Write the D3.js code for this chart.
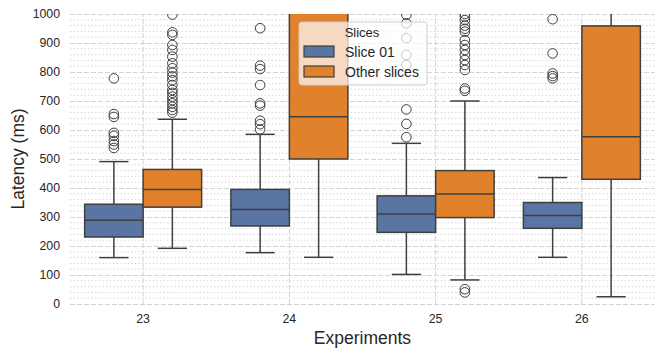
<!DOCTYPE html>
<html>
<head>
<meta charset="utf-8">
<script src="https://cdn.jsdelivr.net/npm/d3@7"></script>
<style>
  body { margin: 0; background: #fff; }
  svg { display: block; font-family: "Liberation Sans", Arial, sans-serif; }
</style>
</head>
<body>
<div id="chart"></div>
<script>
// experiments on the x axis, two hue groups
var categories = ["23", "24", "25", "26"];
var series = ["Slice 01", "Other slices"];
var yTicks = [0, 100, 200, 300, 400, 500, 600, 700, 800, 900, 1000];

// box stats per experiment: [whiskerLow, q1, median, q3, whiskerHigh]
var slice01Stats = [
  [160, 231, 289, 344, 491],
  [177, 269, 326, 395, 585],
  [102, 247, 310, 373, 554],
  [161, 261, 305, 350, 436]
];
var otherStats = [
  [192, 334, 395, 464, 637],
  [161, 500, 646, 1250, 1800],
  [83, 298, 379, 460, 700],
  [25, 430, 577, 959, 1400]
];

var slice01Outliers = [
  [778, 655, 645, 590, 580, 562, 550, 538],
  [951, 822, 810, 755, 692, 684, 632, 620, 602],
  [997, 968, 917, 859, 824, 671, 621, 575],
  [982, 864, 795, 786, 778]
];
var otherOutliers = [
  [998, 937, 928, 893, 876, 853, 830, 813, 798, 785, 772, 755, 738, 728, 715, 703, 692, 680, 669, 660],
  [],
  [1000, 991, 979, 960, 949, 939, 910, 893, 876, 859, 841, 824, 807, 743, 735, 51, 40],
  []
];

var colors = ["#5975a4", "#e1812c"];

(function () {
  'use strict';

  var edge = "#3f3f3f";
  var W = 665, H = 357;
  var mLeft = 70, mRight = 655, mTop = 14, mBottom = 304;

  var svg = d3.select("#chart").append("svg")
    .attr("width", W)
    .attr("height", H);

  var x = d3.scaleBand().domain(categories).range([mLeft, mRight]);
  var bw = x.bandwidth();
  var hue = d3.scaleBand().domain(series).range([0.1 * bw, 0.9 * bw]);
  var y = d3.scaleLinear().domain([0, 1000]).range([mBottom, mTop]);

  svg.append("defs").append("clipPath").attr("id", "plotclip")
    .append("rect")
    .attr("x", mLeft).attr("y", mTop)
    .attr("width", mRight - mLeft).attr("height", mBottom - mTop);

  // minor grid (dotted)
  var minor = d3.range(0, 1001, 20).filter(function (v) { return v % 100 !== 0; });
  svg.append("g").selectAll("line")
    .data(minor)
    .enter().append("line")
    .attr("x1", mLeft).attr("x2", mRight)
    .attr("y1", function (d) { return y(d); })
    .attr("y2", function (d) { return y(d); })
    .attr("stroke", "#d2d2d2")
    .attr("stroke-width", 1)
    .attr("stroke-dasharray", "1.4,2.2");

  // major grid (dashed) via axis
  var yAxis = svg.append("g")
    .attr("transform", "translate(" + mLeft + ",0)")
    .call(d3.axisLeft(y).tickValues(yTicks).tickFormat(d3.format("d"))
      .tickSize(-(mRight - mLeft)).tickPadding(10));
  yAxis.select(".domain").remove();
  yAxis.selectAll(".tick line")
    .attr("stroke", "#d4d4d4")
    .attr("stroke-width", 1)
    .attr("stroke-dasharray", "5,2");
  yAxis.selectAll(".tick text")
    .attr("fill", "#262626")
    .style("font-size", "12.3px")
    .style("font-family", "Liberation Sans, Arial, sans-serif");

  // vertical grid at category centres
  var xAxis = svg.append("g")
    .attr("transform", "translate(0," + mBottom + ")")
    .call(d3.axisBottom(x).tickSize(-(mBottom - mTop)).tickPadding(10));
  xAxis.select(".domain").remove();
  xAxis.selectAll(".tick line")
    .attr("stroke", "#d4d4d4")
    .attr("stroke-width", 1)
    .attr("stroke-dasharray", "5,2");
  xAxis.selectAll(".tick text")
    .attr("fill", "#262626")
    .style("font-size", "12.3px")
    .style("font-family", "Liberation Sans, Arial, sans-serif");

  // boxes
  var plot = svg.append("g").attr("clip-path", "url(#plotclip)");
  var allStats = [slice01Stats, otherStats];
  var allOutliers = [slice01Outliers, otherOutliers];

  series.forEach(function (s, si) {
    var boxW = hue.bandwidth();
    var g = plot.append("g").attr("class", "series-" + si);
    var rows = categories.map(function (c, ci) {
      return { cat: c, st: allStats[si][ci], out: allOutliers[si][ci] };
    });
    var grp = g.selectAll("g.box").data(rows).enter().append("g").attr("class", "box");
    var cx = function (d) { return x(d.cat) + hue(s) + boxW / 2; };

    // whiskers
    grp.append("line")
      .attr("x1", cx).attr("x2", cx)
      .attr("y1", function (d) { return y(d.st[0]); })
      .attr("y2", function (d) { return y(d.st[1]); })
      .attr("stroke", edge).attr("stroke-width", 1.5);
    grp.append("line")
      .attr("x1", cx).attr("x2", cx)
      .attr("y1", function (d) { return y(d.st[3]); })
      .attr("y2", function (d) { return y(d.st[4]); })
      .attr("stroke", edge).attr("stroke-width", 1.5);
    // caps
    [0, 4].forEach(function (k) {
      grp.append("line")
        .attr("x1", function (d) { return cx(d) - boxW / 4; })
        .attr("x2", function (d) { return cx(d) + boxW / 4; })
        .attr("y1", function (d) { return y(d.st[k]); })
        .attr("y2", function (d) { return y(d.st[k]); })
        .attr("stroke", edge).attr("stroke-width", 1.5);
    });
    // box
    grp.append("rect")
      .attr("x", function (d) { return x(d.cat) + hue(s); })
      .attr("width", boxW)
      .attr("y", function (d) { return y(d.st[3]); })
      .attr("height", function (d) { return y(d.st[1]) - y(d.st[3]); })
      .attr("fill", colors[si])
      .attr("stroke", edge).attr("stroke-width", 1.5);
    // median
    grp.append("line")
      .attr("x1", function (d) { return x(d.cat) + hue(s); })
      .attr("x2", function (d) { return x(d.cat) + hue(s) + boxW; })
      .attr("y1", function (d) { return y(d.st[2]); })
      .attr("y2", function (d) { return y(d.st[2]); })
      .attr("stroke", edge).attr("stroke-width", 1.5);
    // fliers
    grp.each(function (d) {
      d3.select(this).selectAll("circle")
        .data(d.out)
        .enter().append("circle")
        .attr("cx", cx(d))
        .attr("cy", function (v) { return y(v); })
        .attr("r", 4.8)
        .attr("fill", "none")
        .attr("stroke", edge)
        .attr("stroke-width", 1);
    });
  });

  // axis titles
  svg.append("text")
    .attr("transform", "translate(24," + ((mTop + mBottom) / 2) + ") rotate(-90)")
    .attr("text-anchor", "middle")
    .attr("fill", "#262626")
    .style("font-size", "17.5px")
    .text("Latency (ms)");
  svg.append("text")
    .attr("x", (mLeft + mRight) / 2)
    .attr("y", 344)
    .attr("text-anchor", "middle")
    .attr("fill", "#262626")
    .style("font-size", "17.5px")
    .text("Experiments");

  // legend
  var lg = svg.append("g").attr("transform", "translate(299,22)");
  lg.append("rect")
    .attr("width", 128).attr("height", 63)
    .attr("rx", 3)
    .attr("fill", "#fff").attr("fill-opacity", 0.7)
    .attr("stroke", "#cccccc").attr("stroke-width", 1);
  lg.append("text")
    .attr("x", 63).attr("y", 15)
    .attr("text-anchor", "middle")
    .attr("fill", "#262626")
    .style("font-size", "13px")
    .text("Slices");
  series.forEach(function (s, i) {
    lg.append("rect")
      .attr("x", 5).attr("y", 24 + i * 20)
      .attr("width", 30).attr("height", 11)
      .attr("fill", colors[i])
      .attr("stroke", edge).attr("stroke-width", 1.2);
    lg.append("text")
      .attr("x", 46).attr("y", 34.5 + i * 20)
      .attr("fill", "#262626")
      .style("font-size", "14px")
      .text(s);
  });
})();
</script>
</body>
</html>
